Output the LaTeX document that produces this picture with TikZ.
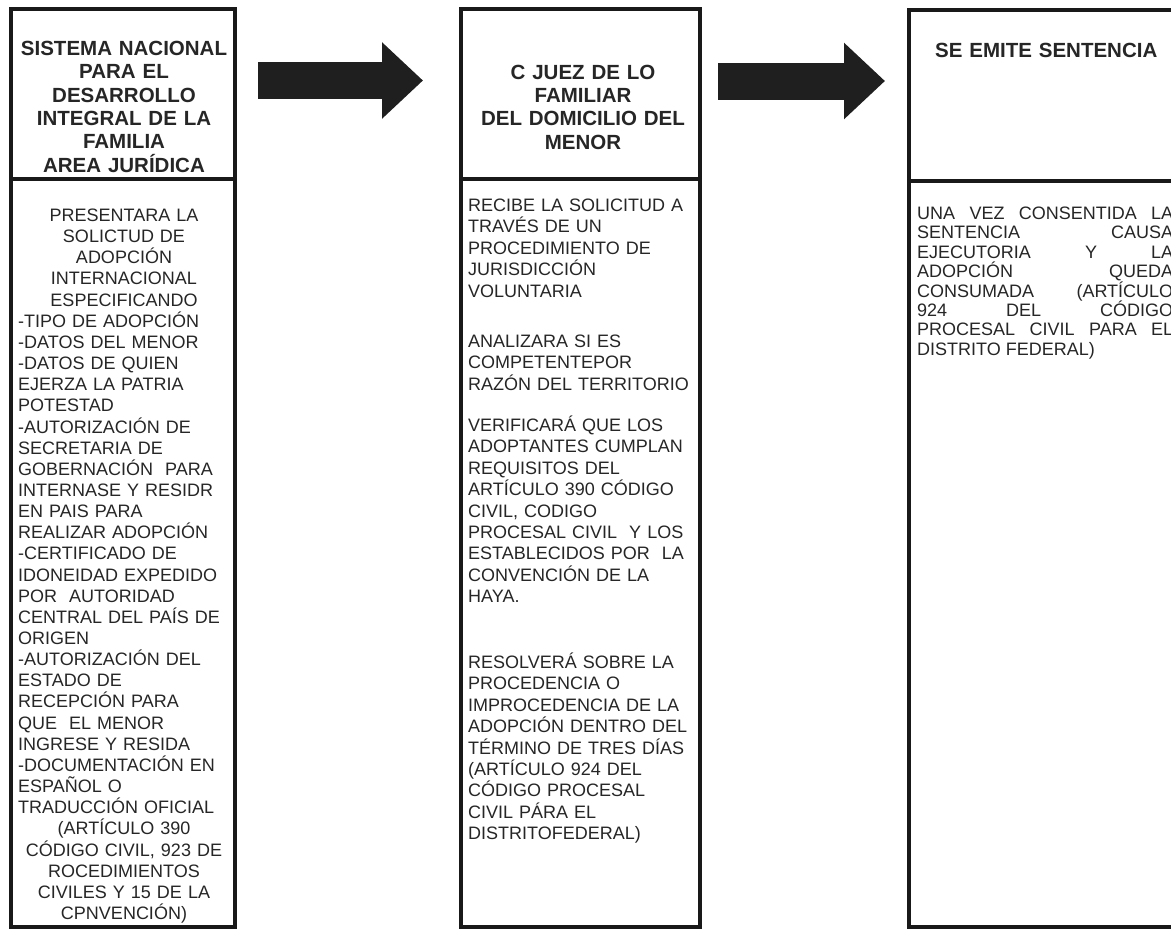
\documentclass[tikz,border=0pt]{standalone}
\usepackage{fontspec}
\setmainfont{Liberation Sans}
\usetikzlibrary{arrows.meta}

\begin{document}
\begin{tikzpicture}[x=1pt,y=-1pt]
	\tikzstyle{every node}=[inner sep=0pt, text=black!85]
	\tikzstyle{box}=[draw=black!90, line width=3.5pt]
	\tikzstyle{headtxt}=[font=\bfseries\fontsize{20.5}{23.3}\selectfont, align=center, anchor=base]
	\tikzstyle{bodytxt}=[font=\fontsize{18}{21.4}\selectfont, anchor=base west, align=left]
	\tikzstyle{listtxt}=[bodytxt, font=\fontsize{18}{21.15}\selectfont]
	\tikzstyle{blockarrow}=[line width=37pt, black!88, -{Triangle[length=41pt,width=74pt]}]
	\useasboundingbox (0,0) rectangle (1171,930);
	\fill[white] (0,0) rectangle (1171,930);
	\draw[box]{
		(11,9) rectangle (235,927) (11,179)--(235,179)
		(461,9) rectangle (700,927) (461,179)--(700,179)
		(909,10) rectangle (1190,927) (909,181)--(1190,181)
	};
	\coordinate (a1s) at (258,80.5);
	\coordinate (a1e) at (423,80.5);
	\coordinate (a2s) at (718,81);
	\coordinate (a2e) at (885,81);
	\draw[blockarrow] (a1s)--(a1e);
	\draw[blockarrow] (a2s)--(a2e);
	\node[headtxt, text width=215pt] (sndif) at (124,55.6) {SISTEMA NACIONAL\\PARA EL\\DESARROLLO\\INTEGRAL DE LA\\FAMILIA\\AREA JURÍDICA};
	\node[listtxt, text width=215pt, align=center, anchor=base] (presenta) at (124,221.5) {PRESENTARA LA\\SOLICTUD DE\\ADOPCIÓN\\INTERNACIONAL\\ESPECIFICANDO};
	\node[listtxt, text width=220pt] (requisitos) at (18,327.25) {-TIPO DE ADOPCIÓN\\-DATOS DEL MENOR\\-DATOS DE QUIEN\\EJERZA LA PATRIA\\POTESTAD\\-AUTORIZACIÓN DE\\SECRETARIA DE\\GOBERNACIÓN\ \ PARA\\INTERNASE Y RESIDR\\EN PAIS PARA\\REALIZAR ADOPCIÓN\\-CERTIFICADO DE\\IDONEIDAD EXPEDIDO\\POR\ \ AUTORIDAD\\CENTRAL DEL PAÍS DE\\ORIGEN\\-AUTORIZACIÓN DEL\\ESTADO DE\\RECEPCIÓN PARA\\QUE\ \ EL MENOR\\INGRESE Y RESIDA\\-DOCUMENTACIÓN EN\\ESPAÑOL O\\TRADUCCIÓN OFICIAL};
	\node[listtxt, text width=215pt, align=center, anchor=base] (fundamento) at (124,834.85) {(ARTÍCULO 390\\CÓDIGO CIVIL, 923 DE\\ROCEDIMIENTOS\\CIVILES Y 15 DE LA\\CPNVENCIÓN)};
	\node[headtxt, text width=230pt] (juez) at (583,79.3) {C JUEZ DE LO\\FAMILIAR\\DEL DOMICILIO DEL\\MENOR};
	\node[bodytxt, text width=230pt] (recibe) at (468,211.5) {RECIBE LA SOLICITUD A\\TRAVÉS DE UN\\PROCEDIMIENTO DE\\JURISDICCIÓN\\VOLUNTARIA};
	\node[bodytxt, text width=230pt] (analiza) at (468,347.5) {ANALIZARA SI ES\\COMPETENTEPOR\\RAZÓN DEL TERRITORIO};
	\node[bodytxt, text width=230pt] (verifica) at (468,431.5) {VERIFICARÁ QUE LOS\\ADOPTANTES CUMPLAN\\REQUISITOS DEL\\ARTÍCULO 390 CÓDIGO\\CIVIL, CODIGO\\PROCESAL CIVIL\ \ Y LOS\\ESTABLECIDOS POR\ \ LA\\CONVENCIÓN DE LA\\HAYA.};
	\node[bodytxt, text width=230pt] (resuelve) at (468,668.5) {RESOLVERÁ SOBRE LA\\PROCEDENCIA O\\IMPROCEDENCIA DE LA\\ADOPCIÓN DENTRO DEL\\TÉRMINO DE TRES DÍAS\\(ARTÍCULO 924 DEL\\CÓDIGO PROCESAL\\CIVIL PÁRA EL\\DISTRITOFEDERAL)};
	\node[headtxt, text width=250pt, align=left, anchor=base west] (sentencia) at (935,57.3) {SE EMITE SENTENCIA};
	\node[bodytxt, font=\fontsize{18}{19.4}\selectfont, text width=256pt, align=justify] (consentida) at (917,219.5) {UNA VEZ CONSENTIDA LA\linebreak SENTENCIA CAUSA\linebreak EJECUTORIA Y LA\linebreak ADOPCIÓN QUEDA\linebreak CONSUMADA (ARTÍCULO\linebreak 924 DEL CÓDIGO\linebreak PROCESAL CIVIL PARA EL\linebreak DISTRITO FEDERAL)};
\end{tikzpicture}
\end{document}
